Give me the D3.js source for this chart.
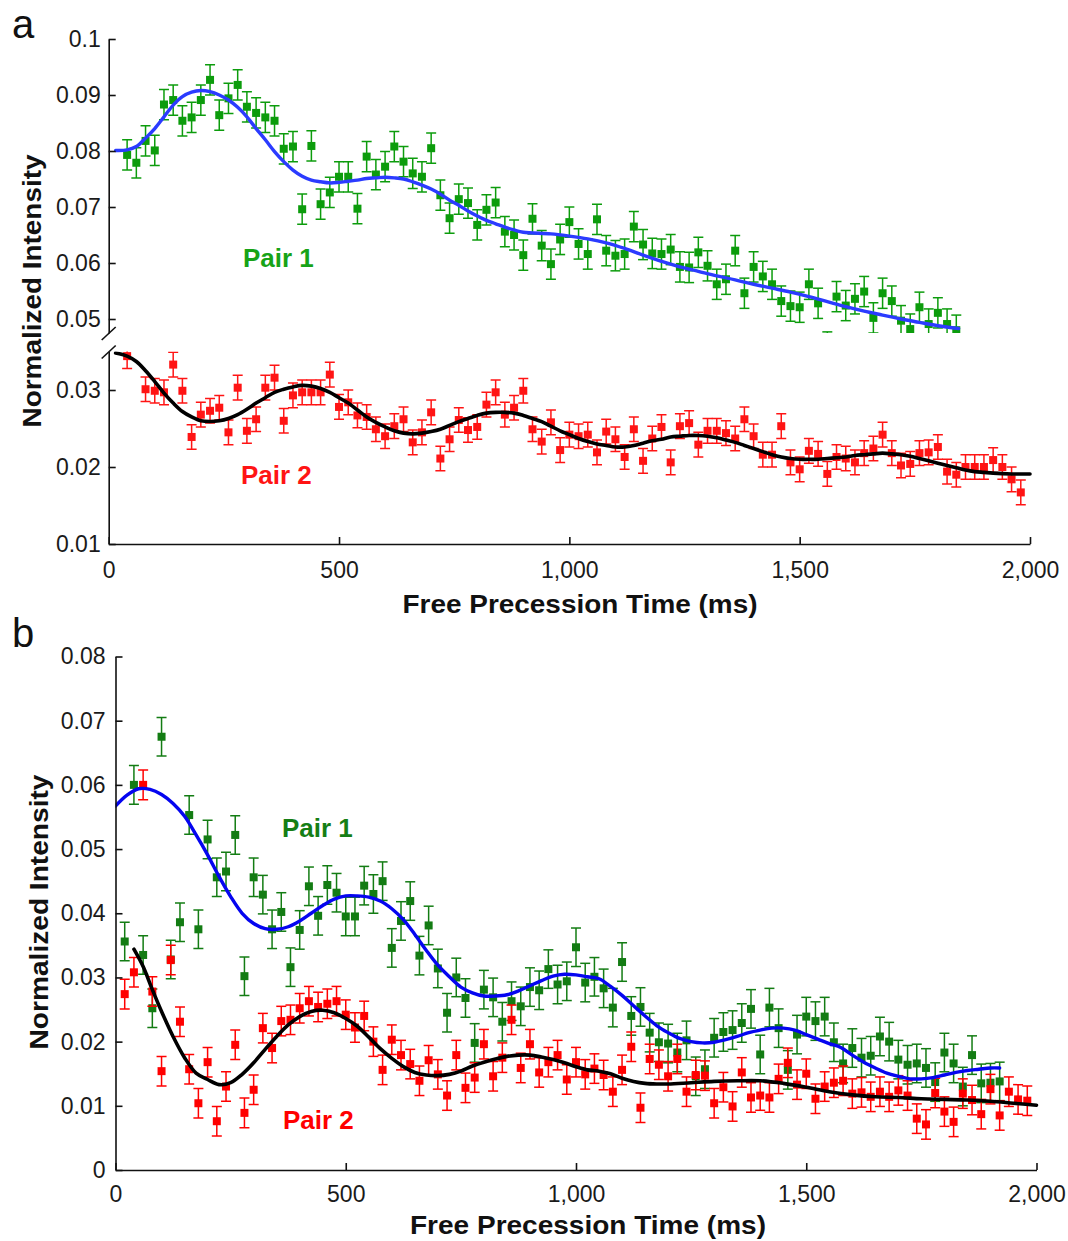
<!DOCTYPE html>
<html><head><meta charset="utf-8">
<script src="https://cdn.jsdelivr.net/npm/d3@7"></script>
<style>body{margin:0;background:#fff} svg{display:block}</style>
</head><body><svg id="c" width="1068" height="1241"></svg>
<script>
// ---------------- DATA ----------------
const xTickValues = [0, 500, 1000, 1500, 2000];
const yTicksAUpper = [0.05, 0.06, 0.07, 0.08, 0.09, 0.1];
const yTicksALower = [0.01, 0.02, 0.03];
const yTicksB = [0, 0.01, 0.02, 0.03, 0.04, 0.05, 0.06, 0.07, 0.08];
const seriesNames = ["Pair 1", "Pair 2"];

// Panel a, Pair 1 (time ms, normalized intensity)
const pair1A = [[40,.0793],[60,.0779],[80,.0818],[100,.0801],[120,.0883],[140,.0891],[160,.0854],[180,.086],[200,.0891],[220,.0927],[240,.0864],[260,.0894],[280,.0918],[300,.0879],[320,.0868],[340,.086],[360,.0854],[380,.0804],[400,.0808],[420,.0696],[440,.0809],[460,.0705],[480,.0726],[500,.0754],[520,.0754],[540,.0697],[560,.079],[580,.0758],[600,.0772],[620,.0808],[640,.0781],[660,.076],[680,.0754],[700,.0805],[720,.0721],[740,.068],[760,.0714],[780,.0707],[800,.0668],[820,.0695],[840,.0708],[860,.0656],[880,.065],[900,.0614],[920,.0679],[940,.0631],[960,.0598],[980,.0642],[1000,.0673],[1020,.0634],[1040,.0616],[1060,.0678],[1080,.0622],[1100,.0613],[1120,.0616],[1140,.0665],[1160,.0633],[1180,.0617],[1200,.0616],[1220,.0624],[1240,.0593],[1260,.0592],[1280,.0619],[1300,.0595],[1320,.0562],[1340,.0571],[1360,.0622],[1380,.0546],[1400,.0593],[1420,.0576],[1440,.0562],[1460,.0532],[1480,.0523],[1500,.0521],[1520,.0562],[1540,.0528],[1560,.045],[1580,.054],[1600,.0524],[1620,.0536],[1640,.0549],[1660,.0502],[1680,.0546],[1700,.0532],[1720,.0497],[1740,.0482],[1760,.0521],[1780,.0491],[1800,.0511],[1820,.0491],[1840,.048]];
// Panel a, Pair 2
const pair2A = [[40,.0344],[80,.0301],[100,.0299],[120,.0297],[140,.0333],[160,.0299],[180,.0239],[200,.0268],[220,.0273],[240,.0277],[260,.0245],[280,.0303],[300,.0247],[320,.0262],[340,.0303],[360,.0316],[380,.026],[400,.0293],[420,.0297],[440,.0297],[460,.0297],[480,.032],[500,.0278],[520,.0284],[540,.0267],[560,.0265],[580,.0249],[600,.024],[620,.0253],[640,.0262],[660,.0232],[680,.0245],[700,.0271],[720,.0211],[740,.0236],[760,.0261],[780,.0248],[800,.0252],[820,.0281],[840,.0297],[860,.0268],[880,.0277],[900,.0299],[920,.0249],[940,.0233],[960,.0258],[980,.0222],[1000,.0242],[1020,.024],[1040,.0242],[1060,.0219],[1080,.0246],[1100,.0236],[1120,.0213],[1140,.0249],[1160,.0208],[1180,.0237],[1200,.0252],[1220,.0206],[1240,.0253],[1260,.0257],[1280,.0229],[1300,.0247],[1320,.0247],[1340,.0244],[1360,.0237],[1380,.0262],[1400,.024],[1420,.0216],[1440,.0216],[1460,.0253],[1480,.0206],[1500,.0197],[1520,.0221],[1540,.0217],[1560,.0191],[1580,.0213],[1600,.0211],[1620,.0206],[1640,.0218],[1660,.0224],[1680,.0242],[1700,.0218],[1720,.0202],[1740,.0204],[1760,.0218],[1780,.0219],[1800,.0226],[1820,.0194],[1840,.019],[1860,.02],[1880,.02],[1900,.02],[1920,.0209],[1940,.02],[1960,.0184],[1980,.0167]];
// Panel a fits
const fit1A = [[15,.0801],[40,.0802],[60,.0808],[80,.0823],[100,.084],[120,.0861],[140,.0882],[160,.0897],[180,.0905],[200,.0908],[220,.0906],[240,.09],[260,.0891],[280,.0878],[300,.0861],[320,.084],[340,.082],[360,.0799],[380,.0781],[400,.0766],[420,.0755],[440,.0748],[460,.0745],[480,.0743],[500,.0744],[520,.0746],[540,.0748],[560,.0751],[580,.0752],[600,.0753],[620,.0752],[640,.075],[660,.0745],[680,.0739],[700,.0732],[720,.0723],[740,.0712],[760,.0703],[780,.0693],[800,.0684],[820,.0676],[840,.067],[860,.0664],[880,.0659],[900,.0655],[960,.0652],[1000,.0648],[1040,.0643],[1080,.0636],[1120,.0626],[1160,.0614],[1200,.0603],[1240,.0593],[1280,.0585],[1320,.0577],[1360,.057],[1400,.0562],[1440,.0555],[1480,.0548],[1520,.054],[1560,.0531],[1600,.0522],[1640,.0514],[1680,.0507],[1720,.05],[1760,.0494],[1800,.0488],[1845,.0483]];
const fit2A = [[15,.0348],[40,.0344],[60,.0337],[80,.0325],[100,.0311],[120,.0296],[140,.0283],[160,.0272],[180,.0265],[200,.026],[220,.0259],[240,.026],[260,.0263],[280,.0268],[300,.0275],[320,.0283],[340,.029],[360,.0297],[380,.0301],[400,.0304],[420,.0306],[440,.0305],[460,.0302],[480,.0297],[500,.029],[520,.0283],[540,.0274],[560,.0265],[580,.0258],[600,.0252],[620,.0247],[640,.0244],[660,.0243],[680,.0244],[700,.0246],[720,.0249],[740,.0254],[760,.0259],[780,.0263],[800,.0267],[820,.027],[840,.0271],[860,.0271],[880,.027],[900,.0267],[920,.0263],[940,.0259],[960,.0253],[980,.0247],[1000,.0242],[1020,.0237],[1040,.0233],[1060,.023],[1080,.0228],[1100,.0226],[1120,.0226],[1140,.0228],[1160,.0231],[1180,.0234],[1200,.0236],[1220,.0239],[1240,.024],[1260,.0241],[1280,.0241],[1300,.024],[1320,.0238],[1340,.0235],[1360,.0232],[1380,.0228],[1400,.0224],[1420,.022],[1440,.0216],[1460,.0213],[1480,.0211],[1500,.021],[1520,.021],[1540,.021],[1560,.0211],[1580,.0212],[1600,.0213],[1620,.0215],[1640,.0216],[1660,.0217],[1680,.0218],[1700,.0217],[1720,.0216],[1740,.0214],[1760,.0211],[1780,.0208],[1800,.0205],[1820,.0202],[1840,.0199],[1860,.0196],[1880,.0194],[1900,.0193],[1920,.0192],[1960,.0191],[2000,.0191]];

// Panel b, Pair 1
const pair1B = [[20,.0356],[40,.06],[60,.0335],[80,.0252],[100,.0675],[120,.0328],[140,.0386],[160,.0553],[180,.0375],[200,.0515],[220,.0456],[240,.0465],[260,.0522],[280,.0302],[300,.0456],[320,.0429],[340,.0375],[360,.0402],[380,.0316],[400,.0374],[420,.0442],[440,.0396],[460,.0444],[480,.0432],[500,.0395],[520,.0395],[540,.0443],[560,.043],[580,.045],[600,.0346],[620,.0388],[640,.0419],[660,.0334],[680,.0381],[700,.0314],[720,.0245],[740,.03],[760,.0268],[780,.0198],[800,.0281],[820,.0269],[840,.0231],[860,.0263],[880,.0255],[900,.0285],[920,.028],[940,.0313],[960,.0289],[980,.0294],[1000,.0347],[1020,.0292],[1040,.0301],[1060,.0283],[1080,.0253],[1100,.0324],[1120,.024],[1140,.0254],[1160,.0214],[1180,.0199],[1200,.0197],[1220,.0183],[1240,.0202],[1260,.0146],[1280,.0157],[1300,.0206],[1320,.0215],[1340,.0218],[1360,.0229],[1380,.0251],[1400,.018],[1420,.0253],[1440,.0221],[1460,.0156],[1480,.0211],[1500,.0239],[1520,.0232],[1540,.0239],[1560,.0199],[1580,.0166],[1600,.019],[1620,.0175],[1640,.0178],[1660,.0208],[1680,.02],[1700,.0172],[1720,.0164],[1740,.0166],[1760,.0159],[1780,.0137],[1800,.0183],[1820,.0166],[1840,.013],[1860,.0179],[1880,.0135],[1900,.0136],[1920,.0138]];
// Panel b, Pair 2
const pair2B = [[20,.0274],[40,.0308],[60,.06],[80,.0278],[100,.0154],[120,.0327],[140,.0231],[160,.0157],[180,.0104],[200,.0168],[220,.0076],[240,.013],[260,.0195],[280,.0089],[300,.0125],[320,.0221],[340,.019],[360,.0232],[380,.0234],[400,.0252],[420,.0263],[440,.0254],[460,.0259],[480,.0263],[500,.0242],[520,.0222],[540,.024],[560,.02],[580,.0156],[600,.0203],[620,.0179],[640,.0165],[660,.0139],[680,.0171],[700,.0149],[720,.0116],[740,.0179],[760,.0128],[780,.0144],[800,.0196],[820,.0146],[840,.0175],[860,.0234],[880,.0159],[900,.0196],[920,.0152],[940,.0168],[960,.0179],[980,.0141],[1000,.0168],[1020,.0149],[1040,.0158],[1060,.0148],[1080,.0122],[1100,.0156],[1120,.0192],[1140,.0097],[1160,.0173],[1180,.0164],[1200,.0146],[1220,.0173],[1240,.0122],[1260,.0148],[1280,.0147],[1300,.0104],[1320,.0129],[1340,.0099],[1360,.0152],[1380,.0113],[1400,.0116],[1420,.0113],[1440,.0142],[1460,.0167],[1480,.0133],[1500,.015],[1520,.0111],[1540,.013],[1560,.0136],[1580,.0139],[1600,.0119],[1620,.0121],[1640,.0114],[1660,.0122],[1680,.0114],[1700,.0124],[1720,.0116],[1740,.008],[1760,.0071],[1780,.012],[1800,.0091],[1820,.0075],[1840,.0119],[1860,.0109],[1880,.0087],[1900,.0126],[1920,.0085],[1940,.0122],[1960,.011],[1980,.0108]];
// Panel b fits
const fit1B = [[0,.0567],[25,.0584],[50,.0594],[75,.0593],[100,.0585],[125,.0571],[150,.0551],[175,.0522],[200,.0491],[225,.0457],[250,.0426],[275,.04],[300,.0384],[325,.0376],[350,.0375],[375,.0379],[400,.0388],[425,.04],[450,.0412],[475,.0422],[500,.0427],[525,.0427],[550,.0425],[575,.0419],[600,.0407],[625,.039],[650,.0367],[675,.0342],[700,.0319],[725,.0301],[750,.0285],[775,.0276],[800,.0271],[825,.0271],[850,.0273],[875,.0279],[900,.0287],[925,.0295],[950,.0302],[975,.0305],[1000,.0304],[1025,.0301],[1050,.0298],[1075,.0286],[1100,.0272],[1125,.0256],[1150,.024],[1175,.0225],[1200,.0214],[1225,.0205],[1250,.02],[1275,.0198],[1300,.0199],[1325,.0203],[1350,.0208],[1375,.0214],[1400,.0218],[1425,.0221],[1450,.0221],[1475,.0218],[1500,.0211],[1525,.0204],[1550,.0197],[1575,.0191],[1600,.0179],[1625,.0168],[1650,.0159],[1675,.0151],[1700,.0146],[1725,.0142],[1750,.0142],[1775,.0144],[1800,.0148],[1825,.0152],[1850,.0155],[1875,.0157],[1900,.0159],[1920,.0159]];
const fit2B = [[40,.0344],[60,.0317],[80,.0281],[100,.0247],[125,.0208],[150,.0175],[175,.0151],[200,.0141],[225,.0133],[250,.0136],[275,.0149],[300,.0167],[325,.0188],[350,.0208],[375,.0226],[400,.0239],[425,.0247],[450,.0249],[475,.0245],[500,.0236],[525,.0224],[550,.0207],[575,.0189],[600,.0174],[625,.0161],[650,.0152],[675,.0148],[700,.0147],[725,.0149],[750,.0154],[775,.0162],[800,.0168],[825,.0173],[850,.0177],[875,.0179],[900,.0179],[925,.0176],[950,.0172],[975,.0167],[1000,.0161],[1025,.0156],[1050,.0154],[1075,.015],[1100,.0143],[1125,.0138],[1150,.0135],[1175,.0134],[1200,.0134],[1250,.0136],[1300,.0138],[1350,.0139],[1400,.0139],[1450,.0135],[1500,.0129],[1550,.0122],[1600,.0117],[1650,.0114],[1700,.0113],[1750,.0111],[1800,.011],[1850,.0109],[1900,.0107],[1950,.0104],[2000,.0101]];

// error bar half-widths (normalized intensity)
const err1A = 0.0027, err2A = 0.0016, err1B = 0.003, err2B = 0.0023;

// ---------------- DRAW ----------------
const FONT = "'Liberation Sans', Arial, Helvetica, sans-serif";
const svg = d3.select("#c");

const xA = d3.scaleLinear().domain([0, 2000]).range([108.7, 1030]);
const yAu = d3.scaleLinear().domain([0.0475, 0.1]).range([333, 39]);
const yAl = d3.scaleLinear().domain([0.01, 0.035]).range([544, 351.5]);
const xB = d3.scaleLinear().domain([0, 2000]).range([115.5, 1036.5]);
const yB = d3.scaleLinear().domain([0, 0.08]).range([1170, 656.5]);

const defs = svg.append("defs");
function clip(id, x, y) {
  defs.append("clipPath").attr("id", id).append("rect")
    .attr("x", x.range()[0]).attr("width", x.range()[1] - x.range()[0] + 12)
    .attr("y", y.range()[1]).attr("height", y.range()[0] - y.range()[1]);
}
clip("cAu", xA, yAu); clip("cAl", xA, yAl);
defs.append("clipPath").attr("id", "cB").append("rect")
  .attr("x", xB.range()[0]).attr("width", xB.range()[1] - xB.range()[0] + 12)
  .attr("y", yB.range()[1] - 20).attr("height", yB.range()[0] - yB.range()[1] + 20);

function drawPoints(g, data, x, y, err, color, size, cap, sw) {
  const s = g.append("g").attr("stroke", color).attr("stroke-width", sw).attr("fill", color);
  const p = s.selectAll("g").data(data).join("g");
  p.append("line").attr("x1", d => x(d[0])).attr("x2", d => x(d[0]))
    .attr("y1", d => y(d[1] - err)).attr("y2", d => y(d[1] + err));
  p.append("line").attr("x1", d => x(d[0]) - cap / 2).attr("x2", d => x(d[0]) + cap / 2)
    .attr("y1", d => y(d[1] + err)).attr("y2", d => y(d[1] + err));
  p.append("line").attr("x1", d => x(d[0]) - cap / 2).attr("x2", d => x(d[0]) + cap / 2)
    .attr("y1", d => y(d[1] - err)).attr("y2", d => y(d[1] - err));
  p.append("rect").attr("stroke", "none")
    .attr("x", d => x(d[0]) - size / 2).attr("y", d => y(d[1]) - size / 2)
    .attr("width", size).attr("height", size);
}
function drawFit(g, data, x, y, color, w) {
  g.append("path").datum(data).attr("fill", "none").attr("stroke", color).attr("stroke-width", w)
    .attr("stroke-linecap", "round")
    .attr("d", d3.line().x(d => x(d[0])).y(d => y(d[1])).curve(d3.curveCatmullRom.alpha(0.5)));
}
function styleAxis(g) {
  g.attr("font-size", 23).attr("font-family", FONT).attr("color", "#1a1a1a");
  g.selectAll("path.domain, .tick line").attr("stroke", "#111").attr("stroke-width", 1.6);
}

// ----- Panel a -----
const gAu = svg.append("g").attr("clip-path", "url(#cAu)");
drawPoints(gAu, pair1A, xA, yAu, err1A, "#0c9c0c", 8, 10, 1.5);
drawFit(gAu, fit1A, xA, yAu, "#2b3bff", 3.4);
const gAl = svg.append("g").attr("clip-path", "url(#cAl)");
drawPoints(gAl, pair2A, xA, yAl, err2A, "#ff1414", 8, 10, 1.5);
drawFit(gAl, fit2A, xA, yAl, "#000", 3.6);

svg.append("g").attr("transform", `translate(0,${yAl.range()[0]})`)
  .call(d3.axisBottom(xA).tickValues(xTickValues).tickSize(-7).tickSizeOuter(0).tickPadding(18).tickFormat(d3.format(",")))
  .call(styleAxis);
svg.append("g").attr("transform", `translate(${xA.range()[0]},0)`)
  .call(d3.axisLeft(yAu).tickValues(yTicksAUpper).tickSize(-7).tickSizeOuter(0).tickPadding(8).tickFormat(d3.format(".2~f")))
  .call(styleAxis);
svg.append("g").attr("transform", `translate(${xA.range()[0]},0)`)
  .call(d3.axisLeft(yAl).tickValues(yTicksALower).tickSize(-7).tickSizeOuter(0).tickPadding(8).tickFormat(d3.format(".2~f")))
  .call(styleAxis);
// axis break marks
[yAu.range()[0], yAl.range()[1]].forEach(yy => {
  svg.append("line").attr("x1", xA.range()[0] - 7).attr("y1", yy + 7)
    .attr("x2", xA.range()[0] + 7).attr("y2", yy - 6)
    .attr("stroke", "#111").attr("stroke-width", 1.6);
});

// ----- Panel b -----
const gB = svg.append("g").attr("clip-path", "url(#cB)");
drawPoints(gB, pair1B, xB, yB, err1B, "#137c13", 8, 10, 1.5);
drawPoints(gB, pair2B, xB, yB, err2B, "#ff0000", 8, 10, 1.5);
drawFit(gB, fit1B, xB, yB, "#0505f0", 3.4);
drawFit(gB, fit2B, xB, yB, "#000", 3.6);

svg.append("g").attr("transform", `translate(0,${yB.range()[0]})`)
  .call(d3.axisBottom(xB).tickValues(xTickValues).tickSize(-7).tickSizeOuter(0).tickPadding(16).tickFormat(d3.format(",")))
  .call(styleAxis);
svg.append("g").attr("transform", `translate(${xB.range()[0]},0)`)
  .call(d3.axisLeft(yB).tickValues(yTicksB).tickSize(-7).tickSizeOuter(0).tickPadding(10).tickFormat(d => d === 0 ? "0" : d3.format(".2~f")(d)))
  .call(styleAxis);

// ----- Text -----
function txt(x, y, s, opts) {
  const t = svg.append("text").attr("x", x).attr("y", y).text(s).attr("font-family", FONT);
  Object.entries(opts).forEach(([k, v]) => t.attr(k, v));
  return t;
}
txt(12, 38, "a", {"font-size": 40, fill: "#111"});
txt(12, 647, "b", {"font-size": 40, fill: "#111"});

const xTitle = "Free Precession Time (ms)", yTitle = "Normalized Intensity";
txt(580, 613, xTitle, {"font-size": 26, "font-weight": "bold", "text-anchor": "middle", textLength: 355, lengthAdjust: "spacingAndGlyphs", fill: "#111"});
txt(588, 1234, xTitle, {"font-size": 26, "font-weight": "bold", "text-anchor": "middle", textLength: 356, lengthAdjust: "spacingAndGlyphs", fill: "#111"});
txt(0, 0, yTitle, {"font-size": 26, "font-weight": "bold", "text-anchor": "middle", textLength: 273, lengthAdjust: "spacingAndGlyphs", fill: "#111", transform: "translate(41,291) rotate(-90)"});
txt(0, 0, yTitle, {"font-size": 26, "font-weight": "bold", "text-anchor": "middle", textLength: 275, lengthAdjust: "spacingAndGlyphs", fill: "#111", transform: "translate(48,912) rotate(-90)"});

txt(243, 267, seriesNames[0], {"font-size": 26, "font-weight": "bold", fill: "#17a317"});
txt(241, 484, seriesNames[1], {"font-size": 26, "font-weight": "bold", fill: "#ff1414"});
txt(282, 837, seriesNames[0], {"font-size": 26, "font-weight": "bold", fill: "#157e15"});
txt(283, 1129, seriesNames[1], {"font-size": 26, "font-weight": "bold", fill: "#ff0000"});
</script></body></html>
